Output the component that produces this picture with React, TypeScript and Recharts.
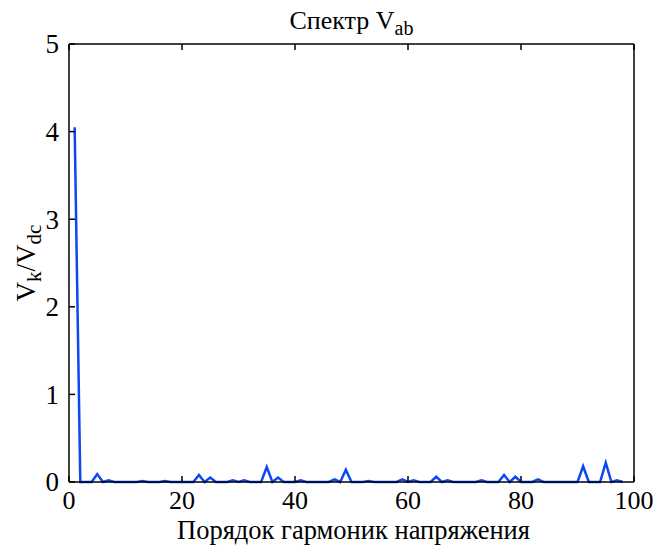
import { LineChart, Line, XAxis, YAxis } from 'recharts'

// harmonic order (x) and relative amplitude Vk/Vdc (y)
const harmonicOrders = [
  1, 2, 3, 4, 5, 6, 7, 8, 9, 10, 11, 12, 13, 14, 15, 16, 17, 18, 19, 20,
  21, 22, 23, 24, 25, 26, 27, 28, 29, 30, 31, 32, 33, 34, 35, 36, 37, 38, 39, 40,
  41, 42, 43, 44, 45, 46, 47, 48, 49, 50, 51, 52, 53, 54, 55, 56, 57, 58, 59, 60,
  61, 62, 63, 64, 65, 66, 67, 68, 69, 70, 71, 72, 73, 74, 75, 76, 77, 78, 79, 80,
  81, 82, 83, 84, 85, 86, 87, 88, 89, 90, 91, 92, 93, 94, 95, 96, 97, 98,
]

const amplitudes = [
  4.05, 0, 0, 0, 0.09, 0, 0.02, 0, 0, 0, 0, 0, 0.01, 0, 0, 0, 0.01, 0, 0, 0,
  0, 0, 0.08, 0, 0.05, 0, 0, 0, 0.02, 0, 0.02, 0, 0, 0, 0.17, 0, 0.05, 0, 0, 0,
  0.02, 0, 0, 0, 0, 0, 0.03, 0, 0.14, 0, 0, 0, 0.01, 0, 0, 0, 0, 0, 0.03, 0,
  0.02, 0, 0, 0, 0.06, 0, 0.02, 0, 0, 0, 0, 0, 0.02, 0, 0, 0, 0.08, 0, 0.06, 0,
  0, 0, 0.03, 0, 0, 0, 0, 0, 0, 0, 0.18, 0, 0, 0, 0.22, 0, 0.02, 0,
]

const xTicks = [0, 20, 40, 60, 80, 100]
const yTicks = [0, 1, 2, 3, 4, 5]

const data = harmonicOrders.map((order, i) => ({ order, value: amplitudes[i] }))

const textStyle = { fontFamily: 'Liberation Serif', fill: '#000' }
const TICK_LEN = 6
const MARGIN = 8

// matlab style: ticks drawn inward, labels outside
const BottomTick = ({ x, y, payload }: any) => (
  <g>
    <line x1={x} x2={x} y1={y - MARGIN} y2={y - MARGIN - TICK_LEN} stroke="#000" strokeWidth={1.5} />
    <text x={x} y={y} dy="0.74em" textAnchor="middle" fontSize={26} style={textStyle}>
      {payload.value}
    </text>
  </g>
)

const LeftTick = ({ x, y, payload }: any) => (
  <g>
    <line x1={x + MARGIN} x2={x + MARGIN + TICK_LEN} y1={y} y2={y} stroke="#000" strokeWidth={1.5} />
    <text x={x - 2} y={y} dy="0.35em" textAnchor="end" fontSize={27} style={textStyle}>
      {payload.value}
    </text>
  </g>
)

const TopTick = ({ x, y }: any) => (
  <line x1={x} x2={x} y1={y} y2={y + TICK_LEN} stroke="#000" strokeWidth={1.5} />
)

const RightTick = ({ x, y }: any) => (
  <line x1={x} x2={x - TICK_LEN} y1={y} y2={y} stroke="#000" strokeWidth={1.5} />
)

const XLabel = ({ viewBox }: any) => (
  <text
    x={viewBox.x + viewBox.width / 2 + 2}
    y={viewBox.y + 57}
    textAnchor="middle"
    fontSize={26.5}
    style={textStyle}
  >
    Порядок гармоник напряжения
  </text>
)

const YLabel = ({ viewBox }: any) => {
  const cx = 35
  const cy = viewBox.y + viewBox.height / 2
  return (
    <text
      x={cx}
      y={cy}
      transform={`rotate(-90 ${cx} ${cy})`}
      textAnchor="middle"
      fontSize={27}
      style={textStyle}
    >
      V<tspan fontSize={21} dy={6}>k</tspan>
      <tspan dy={-6}>/V</tspan>
      <tspan fontSize={21} dy={6}>dc</tspan>
    </text>
  )
}

const Title = ({ viewBox }: any) => (
  <text
    x={viewBox.x + viewBox.width / 2}
    y={29}
    textAnchor="middle"
    fontSize={26}
    style={textStyle}
  >
    Спектр V<tspan fontSize={20} dy={6}>ab</tspan>
  </text>
)

export default function App() {
  return (
    <div style={{ position: 'absolute', left: 0, top: 0, background: '#fff' }}>
      <LineChart
        width={654}
        height={545}
        data={data}
        margin={{ top: 40, right: 16, bottom: 3, left: 9 }}
      >
        <XAxis
          dataKey="order"
          type="number"
          domain={[0, 100]}
          ticks={xTicks}
          height={60}
          tickSize={0}
          tickMargin={MARGIN}
          tickLine={false}
          tick={<BottomTick />}
          axisLine={{ stroke: '#000', strokeWidth: 1.5 }}
          interval={0}
          label={<XLabel />}
        />
        <XAxis
          xAxisId="top"
          orientation="top"
          dataKey="order"
          type="number"
          domain={[0, 100]}
          ticks={xTicks}
          height={4}
          tickSize={0}
          tickMargin={0}
          tickLine={false}
          tick={<TopTick />}
          axisLine={{ stroke: '#000', strokeWidth: 1.5 }}
          interval={0}
          label={<Title />}
        />
        <YAxis
          type="number"
          domain={[0, 5]}
          ticks={yTicks}
          width={60}
          tickSize={0}
          tickMargin={MARGIN}
          tickLine={false}
          tick={<LeftTick />}
          axisLine={{ stroke: '#000', strokeWidth: 1.5 }}
          interval={0}
          label={<YLabel />}
        />
        <YAxis
          yAxisId="right"
          orientation="right"
          type="number"
          domain={[0, 5]}
          ticks={yTicks}
          width={4}
          tickSize={0}
          tickMargin={0}
          tickLine={false}
          tick={<RightTick />}
          axisLine={{ stroke: '#000', strokeWidth: 1.5 }}
          interval={0}
        />
        <Line
          dataKey="value"
          type="linear"
          stroke="#0d47f2"
          strokeWidth={2.5}
          dot={false}
          isAnimationActive={false}
        />
      </LineChart>
    </div>
  )
}
